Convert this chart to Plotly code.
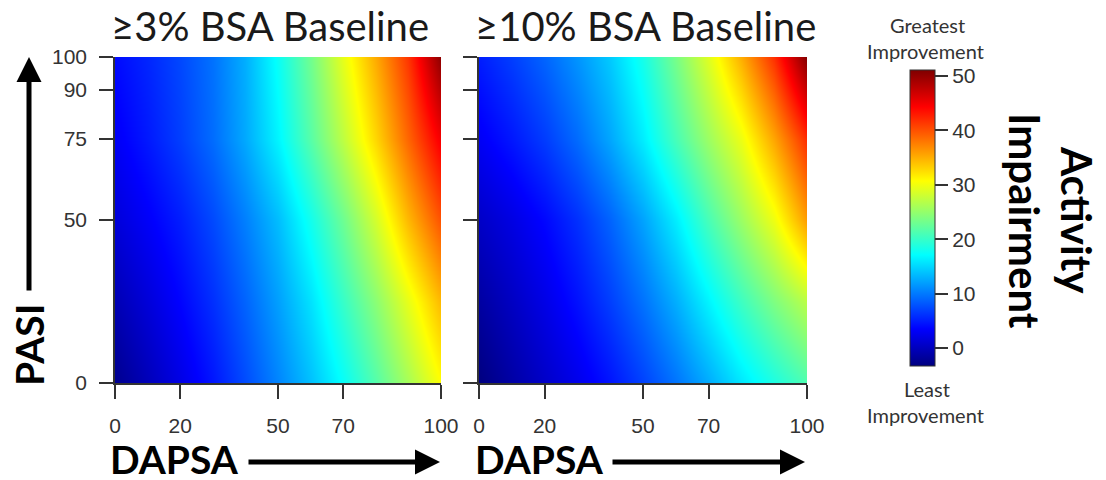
import plotly.graph_objects as go

W, H = 1106, 480

# ---- data ----
dapsa = [0, 10, 20, 30, 40, 50, 60, 70, 80, 90, 100]
pasi = [0, 25, 50, 75, 100]

# ≥3% BSA baseline: rows = PASI 0,25,50,75,100 ; cols = DAPSA 0..100
z_bsa3 = [
    [-2.5, -0.2, 2.1, 4.6, 7.5, 10.6, 13.8, 17.4, 21.6, 26.0, 30.7],
    [-0.5, 1.5, 3.6, 6.0, 8.8, 12.0, 15.6, 20.0, 24.5, 29.4, 34.5],
    [1.5, 3.2, 5.0, 7.4, 10.3, 13.6, 18.1, 22.9, 28.4, 34.5, 40.0],
    [3.0, 4.8, 6.8, 9.3, 12.5, 16.6, 21.8, 27.2, 32.9, 38.9, 45.0],
    [4.0, 5.5, 7.3, 9.6, 12.8, 17.6, 23.2, 29.4, 35.3, 41.5, 50.5],
]
# ≥10% BSA baseline
z_bsa10 = [
    [-3.3, -1.3, 0.6, 2.4, 4.5, 7.0, 9.7, 12.7, 15.8, 18.6, 21.3],
    [-1.5, 0.3, 2.2, 4.3, 6.8, 9.6, 12.8, 16.6, 20.3, 23.8, 27.0],
    [0.5, 2.0, 3.8, 6.0, 8.8, 12.2, 16.2, 21.0, 25.3, 29.8, 36.0],
    [3.0, 4.7, 6.7, 9.2, 12.4, 16.2, 20.9, 25.5, 29.7, 35.5, 42.0],
    [5.0, 6.8, 8.9, 11.4, 14.3, 18.3, 23.5, 29.1, 35.0, 41.8, 51.0],
]
x_ticks = [0, 20, 50, 70, 100]
y_ticks = [0, 50, 75, 90, 100]
cbar_ticks = [0, 10, 20, 30, 40, 50]
z_min, z_max = -3.3, 51.1

jet = [
    [0.0, "#00007F"], [0.125, "#0000FF"], [0.375, "#00FFFF"],
    [0.625, "#FFFF00"], [0.875, "#FF0000"], [1.0, "#7F0000"],
]


def px(x):
    return x / W


def py(y):
    return 1 - y / H


fig = go.Figure()
fig.add_trace(go.Heatmap(x=dapsa, y=pasi, z=z_bsa3, zsmooth="best",
                         coloraxis="coloraxis", xaxis="x", yaxis="y",
                         hoverinfo="skip"))
fig.add_trace(go.Heatmap(x=dapsa, y=pasi, z=z_bsa10, zsmooth="best",
                         coloraxis="coloraxis", xaxis="x2", yaxis="y2",
                         hoverinfo="skip"))

tickfont = dict(family="Liberation Sans, Arial, sans-serif", size=21, color="#333333")
ax_common = dict(range=[0, 100], ticks="outside", showline=True, linecolor="#333333",
                 linewidth=1.5, tickcolor="#333333", tickwidth=1.5, showgrid=False,
                 zeroline=False, tickfont=tickfont, fixedrange=True, automargin=False)

ydom = [py(383), py(57)]
fig.update_layout(
    width=W, height=H, margin=dict(l=0, r=0, t=0, b=0, autoexpand=False),
    paper_bgcolor="white", plot_bgcolor="white", showlegend=False,
    xaxis=dict(domain=[px(115), px(441)], anchor="y", tickvals=x_ticks,
               ticklen=14, ticklabelstandoff=9, **ax_common),
    yaxis=dict(domain=ydom, anchor="x", tickvals=y_ticks,
               ticklen=14, ticklabelstandoff=8, **ax_common),
    xaxis2=dict(domain=[px(479), px(807)], anchor="y2", tickvals=x_ticks,
                ticklen=14, ticklabelstandoff=9, **ax_common),
    yaxis2=dict(domain=ydom, anchor="x2", tickvals=y_ticks, showticklabels=False,
                ticklen=14, **ax_common),
    coloraxis=dict(
        colorscale=jet, cmin=z_min, cmax=z_max,
        colorbar=dict(
            x=px(910), xanchor="left", xref="paper",
            y=py(366), yanchor="bottom", yref="paper",
            len=(366 - 70) / H, lenmode="fraction",
            thickness=25, thicknessmode="pixels", xpad=0, ypad=0,
            outlinewidth=1, outlinecolor="#333333",
            tickvals=cbar_ticks, ticks="outside", ticklen=13,
            tickcolor="#333333", tickwidth=1.5,
            tickfont=tickfont, ticklabelposition="outside",
        ),
    ),
)

title_font = dict(family="Lato, Open Sans, sans-serif", size=40, color="#1a1a1a")
bold_font = dict(family="Lato, Open Sans, sans-serif", size=39, color="#000000", weight="bold")
small_font = dict(family="Lato, Open Sans, sans-serif", size=20, color="#333333")
side_font = dict(family="Lato, Open Sans, sans-serif", size=42, color="#000000", weight="bold")

ann = []
ann.append(dict(text="≥3% BSA Baseline", x=px(270), y=py(26), font=title_font))
ann.append(dict(text="≥10% BSA Baseline", x=px(645), y=py(26), font=title_font))
ann.append(dict(text="DAPSA", x=px(174), y=py(459), font=bold_font))
ann.append(dict(text="DAPSA", x=px(539), y=py(459), font=bold_font))
ann.append(dict(text="PASI", x=px(29), y=py(345), font=bold_font, textangle=-90))
ann.append(dict(text="Greatest", x=px(927), y=py(25), font=small_font))
ann.append(dict(text="Improvement", x=px(925), y=py(51), font=small_font))
ann.append(dict(text="Least", x=px(927), y=py(389), font=small_font))
ann.append(dict(text="Improvement", x=px(925), y=py(415), font=small_font))
ann.append(dict(text="Activity", x=px(1077), y=py(220), font=side_font, textangle=90))
ann.append(dict(text="Impairment", x=px(1025), y=py(221), font=side_font, textangle=90))
for a in ann:
    a.update(xref="paper", yref="paper", showarrow=False, xanchor="center", yanchor="middle")

# arrows (head, tail) in pixels
arrows = [
    ((440, 462), (247, 462)),
    ((805, 462), (611, 462)),
    ((29, 57), (29, 292)),
]
for (hx, hy), (tx, ty) in arrows:
    ann.append(dict(x=px(hx), y=py(hy), xref="paper", yref="paper",
                    ax=tx - hx, ay=ty - hy, axref="pixel", ayref="pixel",
                    text="", showarrow=True, arrowhead=2, arrowsize=1.0,
                    arrowwidth=5, arrowcolor="#000000", standoff=0))

fig.update_layout(annotations=ann)
fig.write_html("out.html", config={"displayModeBar": False},
               post_script="document.body.style.margin='0';document.body.style.overflow='hidden';")
